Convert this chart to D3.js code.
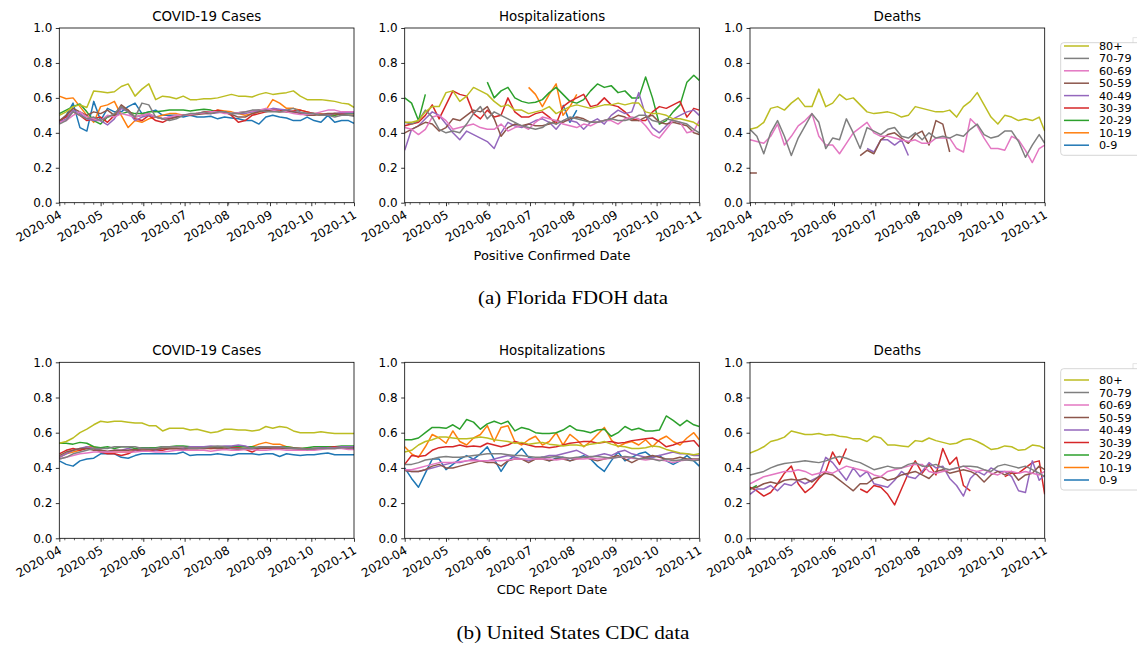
<!DOCTYPE html>
<html><head><meta charset="utf-8">
<script src="https://cdn.jsdelivr.net/npm/d3@7"></script>
<style>
body{margin:0;background:#fff}
svg{display:block}
text{font-family:"DejaVu Sans",sans-serif;fill:#000}
</style>
</head><body>
<svg id="chart" width="1137" height="648"></svg>
<script>
const _ = null;
const ageGroups = ["0-9","10-19","20-29","30-39","40-49","50-59","60-69","70-79","80+"];
const groupColors = ["#1f77b4","#ff7f0e","#2ca02c","#d62728","#9467bd","#8c564b","#e377c2","#7f7f7f","#bcbd22"];
const dayOffsets = [0,5,10,15,20,25,30,35,40,45,50,55,60,65,70,75,80,85,90,95,100,105,110,115,120,125,130,135,140,145,150,155,160,165,170,175,180,185,190,195,200,205,210,214];
const yTicks = [0,0.2,0.4,0.6,0.8,1.0];
const panelTitles = ["COVID-19 Cases","Hospitalizations","Deaths"];
const xLabels = ["Positive Confirmed Date","CDC Report Date"];
const subCaptions = ["(a) Florida FDOH data","(b) United States CDC data"];

// Florida FDOH — order: 0-9,10-19,20-29,30-39,40-49,50-59,60-69,70-79,80+
const flCases = [
[0.46,0.50,0.57,0.43,0.41,0.58,0.47,0.54,0.52,0.52,0.55,0.57,0.51,0.52,0.53,0.50,0.50,0.50,0.49,0.50,0.49,0.49,0.495,0.48,0.49,0.485,0.48,0.47,0.47,0.45,0.49,0.50,0.49,0.485,0.47,0.47,0.49,0.47,0.46,0.50,0.46,0.47,0.47,0.455],
[0.61,0.595,0.60,0.55,0.50,0.46,0.55,0.56,0.58,0.50,0.43,0.47,0.46,0.48,0.49,0.50,0.51,0.51,0.50,0.505,0.51,0.51,0.52,0.53,0.525,0.52,0.51,0.50,0.51,0.52,0.53,0.59,0.57,0.54,0.54,0.53,0.52,0.51,0.51,0.50,0.50,0.51,0.51,0.51],
[0.51,0.53,0.55,0.565,0.52,0.47,0.45,0.49,0.50,0.51,0.52,0.51,0.51,0.52,0.52,0.525,0.53,0.53,0.53,0.525,0.53,0.535,0.53,0.52,0.52,0.51,0.515,0.52,0.52,0.53,0.53,0.525,0.52,0.52,0.52,0.515,0.51,0.51,0.50,0.505,0.50,0.51,0.51,0.51],
[0.47,0.49,0.52,0.50,0.47,0.48,0.49,0.46,0.50,0.55,0.53,0.48,0.47,0.50,0.47,0.46,0.48,0.49,0.50,0.505,0.51,0.52,0.52,0.53,0.52,0.50,0.46,0.47,0.50,0.51,0.52,0.53,0.53,0.52,0.525,0.53,0.52,0.51,0.50,0.505,0.51,0.51,0.52,0.52],
[0.46,0.48,0.53,0.51,0.48,0.47,0.47,0.445,0.48,0.54,0.52,0.47,0.49,0.50,0.49,0.48,0.49,0.49,0.50,0.50,0.51,0.51,0.51,0.515,0.52,0.51,0.51,0.51,0.52,0.525,0.53,0.54,0.535,0.53,0.52,0.515,0.51,0.51,0.505,0.505,0.51,0.515,0.515,0.515],
[0.47,0.50,0.54,0.52,0.50,0.52,0.51,0.53,0.50,0.56,0.53,0.49,0.50,0.51,0.49,0.48,0.48,0.49,0.50,0.50,0.505,0.51,0.51,0.52,0.52,0.505,0.49,0.49,0.51,0.52,0.525,0.53,0.52,0.525,0.52,0.51,0.50,0.50,0.505,0.51,0.51,0.505,0.50,0.50],
[0.46,0.47,0.50,0.52,0.49,0.48,0.47,0.50,0.49,0.51,0.50,0.49,0.50,0.51,0.49,0.48,0.49,0.50,0.50,0.505,0.51,0.515,0.52,0.52,0.51,0.51,0.515,0.52,0.525,0.53,0.54,0.53,0.52,0.52,0.51,0.505,0.505,0.51,0.52,0.53,0.53,0.52,0.52,0.52],
[0.45,0.47,0.52,0.50,0.48,0.49,0.47,0.49,0.51,0.55,0.52,0.49,0.57,0.56,0.49,0.48,0.47,0.48,0.50,0.51,0.51,0.52,0.51,0.52,0.52,0.51,0.51,0.52,0.53,0.53,0.52,0.52,0.52,0.53,0.54,0.52,0.51,0.51,0.50,0.50,0.49,0.50,0.50,0.495],
[0.50,0.52,0.55,0.56,0.545,0.64,0.635,0.63,0.635,0.665,0.68,0.61,0.65,0.68,0.59,0.61,0.605,0.595,0.61,0.59,0.59,0.595,0.595,0.60,0.61,0.62,0.61,0.61,0.605,0.62,0.63,0.62,0.625,0.63,0.64,0.61,0.59,0.59,0.59,0.585,0.58,0.57,0.565,0.545]
];
const flHosp = [
[_,_,_,_,_,_,_,_,_,_,_,_,_,_,_,_,_,_,_,_,_,_,_,0.56,0.46,0.53,_,_,_,_,_,_,_,_,_,_,_,_,_,_,_,_,_,_],
[_,_,_,_,_,_,_,_,_,_,_,_,_,_,_,_,_,_,0.66,0.62,0.55,0.62,0.68,0.50,0.55,0.62,_,_,_,_,_,_,_,_,_,_,_,_,_,_,_,_,_,_],
[0.60,0.57,0.47,0.62,_,_,_,_,_,_,_,_,0.69,0.60,0.64,0.66,0.60,0.58,0.57,0.575,0.59,0.63,0.66,0.62,0.58,0.57,0.59,0.64,0.68,0.66,0.67,0.63,0.64,0.60,0.60,0.72,0.60,0.45,0.47,0.52,0.56,0.69,0.73,0.70],
[0.44,0.45,0.46,0.50,0.56,0.48,0.56,0.64,0.62,0.61,0.51,0.48,0.53,0.49,0.50,0.60,0.52,0.49,0.49,0.51,0.52,0.49,0.45,0.55,0.58,0.60,0.62,0.55,0.56,0.60,0.56,0.55,0.52,0.48,0.47,0.47,0.52,0.55,0.54,0.56,0.58,0.49,0.54,0.53],
[0.30,0.42,0.44,0.48,0.52,0.50,0.45,0.40,0.36,0.41,0.39,0.37,0.35,0.31,0.40,0.46,0.44,0.43,0.45,0.47,0.48,0.46,0.42,0.47,0.47,0.46,0.42,0.46,0.48,0.45,0.50,0.53,0.51,0.52,0.63,0.50,0.43,0.40,0.44,0.48,0.50,0.52,0.53,0.50],
[0.40,0.42,0.44,0.46,0.45,0.41,0.43,0.48,0.47,0.50,0.53,0.52,0.55,0.48,0.38,0.43,0.45,0.44,0.45,0.44,0.44,0.45,0.47,0.46,0.48,0.49,0.48,0.46,0.46,0.47,0.48,0.50,0.49,0.47,0.47,0.49,0.50,0.46,0.45,0.46,0.45,0.44,0.40,0.39],
[0.43,0.42,0.39,0.42,0.49,0.50,0.47,0.42,0.43,0.44,0.45,0.43,0.42,0.42,0.45,0.41,0.43,0.44,0.42,0.46,0.49,0.48,0.47,0.45,0.44,0.43,0.45,0.44,0.46,0.47,0.47,0.45,0.48,0.49,0.48,0.44,0.39,0.37,0.42,0.47,0.46,0.40,0.41,0.47],
[0.46,0.45,0.47,0.53,0.49,0.42,0.40,0.41,0.40,0.45,0.51,0.55,0.48,0.52,0.50,0.48,0.46,0.44,0.43,0.42,0.43,0.46,0.45,0.47,0.49,0.48,0.47,0.46,0.46,0.47,0.48,0.47,0.47,0.48,0.50,0.50,0.47,0.46,0.48,0.47,0.46,0.45,0.42,0.40],
[0.46,0.46,0.47,0.52,0.55,0.55,0.63,0.64,0.58,0.61,0.66,0.64,0.62,0.58,0.55,0.56,0.53,0.53,0.51,0.52,0.53,0.55,0.51,0.53,0.55,0.56,0.55,0.54,0.55,0.56,0.56,0.57,0.56,0.57,0.57,0.52,0.51,0.51,0.50,0.48,0.48,0.47,0.46,0.44]
];
const flDeaths = [
[],
[],
[],
[],
[_,_,_,_,_,_,_,_,_,_,_,_,_,_,_,_,_,0.31,0.29,0.36,0.36,0.33,0.36,0.27,_,_,_,_,_,_,_,_,_,_,_,_,_,_,_,_,_,_,_,_],
[0.17,0.17,_,_,_,_,_,_,_,_,_,_,_,_,_,_,0.27,0.30,0.28,0.36,0.39,0.40,0.37,0.34,0.39,0.41,0.33,0.47,0.45,0.29,_,_,_,_,_,_,_,_,_,_,_,_,_,_],
[0.36,0.35,0.34,0.38,0.45,0.33,0.38,0.44,0.47,0.51,0.38,0.33,0.33,0.28,0.34,0.40,0.43,0.46,0.40,0.38,0.38,0.37,0.36,0.35,0.36,0.34,0.34,0.37,0.37,0.37,0.31,0.29,0.48,0.44,0.37,0.31,0.31,0.30,0.38,0.36,0.30,0.23,0.31,0.33],
[0.42,0.38,0.28,0.40,0.47,0.38,0.27,0.37,0.44,0.51,0.46,0.31,0.37,0.36,0.48,0.40,0.31,0.43,0.41,0.39,0.42,0.43,0.38,0.37,0.40,0.36,0.40,0.37,0.38,0.37,0.39,0.38,0.42,0.45,0.39,0.37,0.38,0.41,0.41,0.35,0.26,0.33,0.39,0.34],
[0.42,0.43,0.46,0.54,0.55,0.53,0.57,0.60,0.55,0.55,0.65,0.55,0.57,0.62,0.59,0.60,0.56,0.52,0.51,0.515,0.52,0.51,0.49,0.50,0.55,0.54,0.53,0.52,0.52,0.53,0.49,0.55,0.58,0.63,0.56,0.49,0.45,0.50,0.49,0.47,0.48,0.47,0.49,0.41]
];

// United States CDC
const usCases = [
[0.44,0.42,0.41,0.44,0.45,0.455,0.48,0.48,0.48,0.46,0.455,0.47,0.48,0.48,0.48,0.48,0.48,0.48,0.49,0.47,0.475,0.475,0.475,0.48,0.475,0.47,0.48,0.48,0.48,0.475,0.48,0.48,0.465,0.48,0.475,0.47,0.475,0.475,0.48,0.485,0.475,0.475,0.475,0.475],
[0.46,0.48,0.49,0.50,0.52,0.52,0.50,0.49,0.49,0.49,0.49,0.50,0.505,0.50,0.51,0.51,0.51,0.51,0.51,0.51,0.51,0.515,0.51,0.515,0.52,0.52,0.515,0.51,0.52,0.535,0.545,0.535,0.535,0.52,0.515,0.51,0.51,0.505,0.51,0.515,0.52,0.52,0.52,0.515],
[0.54,0.54,0.535,0.545,0.54,0.52,0.515,0.52,0.51,0.52,0.52,0.51,0.515,0.515,0.515,0.52,0.52,0.525,0.525,0.52,0.52,0.52,0.52,0.515,0.52,0.52,0.52,0.52,0.52,0.515,0.52,0.52,0.52,0.52,0.515,0.51,0.515,0.52,0.52,0.52,0.52,0.525,0.525,0.525],
[0.48,0.50,0.51,0.50,0.51,0.51,0.49,0.48,0.48,0.47,0.48,0.50,0.50,0.495,0.50,0.50,0.51,0.51,0.51,0.51,0.51,0.51,0.51,0.51,0.51,0.515,0.515,0.505,0.49,0.51,0.51,0.515,0.515,0.51,0.51,0.51,0.505,0.51,0.51,0.515,0.52,0.515,0.515,0.515],
[0.46,0.48,0.50,0.51,0.52,0.51,0.50,0.49,0.50,0.50,0.51,0.50,0.51,0.51,0.50,0.51,0.51,0.51,0.51,0.52,0.52,0.52,0.525,0.52,0.525,0.525,0.53,0.525,0.51,0.515,0.52,0.52,0.52,0.515,0.51,0.51,0.505,0.51,0.515,0.515,0.515,0.52,0.52,0.52],
[0.47,0.49,0.50,0.51,0.51,0.50,0.50,0.495,0.50,0.50,0.50,0.505,0.50,0.505,0.505,0.51,0.51,0.51,0.505,0.51,0.51,0.51,0.515,0.51,0.51,0.51,0.505,0.51,0.51,0.51,0.515,0.51,0.51,0.51,0.51,0.505,0.505,0.505,0.51,0.51,0.51,0.515,0.51,0.51],
[0.45,0.46,0.47,0.48,0.485,0.49,0.49,0.49,0.49,0.49,0.49,0.49,0.495,0.495,0.49,0.49,0.495,0.50,0.50,0.50,0.50,0.50,0.495,0.50,0.505,0.50,0.50,0.505,0.505,0.50,0.50,0.505,0.505,0.50,0.50,0.50,0.50,0.50,0.505,0.51,0.51,0.51,0.505,0.505],
[0.45,0.46,0.48,0.49,0.50,0.51,0.51,0.51,0.52,0.52,0.52,0.52,0.51,0.51,0.51,0.52,0.52,0.52,0.52,0.51,0.51,0.515,0.52,0.525,0.52,0.51,0.51,0.51,0.51,0.52,0.52,0.52,0.52,0.515,0.51,0.51,0.505,0.51,0.51,0.51,0.51,0.515,0.515,0.51],
[0.54,0.55,0.57,0.60,0.62,0.645,0.665,0.66,0.665,0.665,0.66,0.655,0.655,0.64,0.64,0.61,0.625,0.625,0.625,0.615,0.62,0.61,0.60,0.605,0.62,0.62,0.615,0.615,0.61,0.615,0.635,0.625,0.635,0.63,0.61,0.60,0.60,0.60,0.605,0.60,0.595,0.595,0.595,0.595]
];
const usHosp = [
[0.40,0.34,0.29,0.37,0.45,0.45,0.39,0.42,0.45,0.47,0.45,0.48,0.52,0.45,0.38,0.44,0.47,0.51,0.46,0.45,0.46,0.44,0.455,0.46,0.44,0.455,0.47,0.45,0.41,0.38,0.44,0.49,0.44,0.46,0.48,0.49,0.46,0.47,0.44,0.42,0.44,0.47,0.44,0.41],
[0.52,0.48,0.46,0.52,0.59,0.57,0.54,0.61,0.55,0.53,0.57,0.59,0.64,0.55,0.63,0.64,0.55,0.53,0.56,0.58,0.53,0.55,0.60,0.53,0.59,0.56,0.52,0.55,0.59,0.63,0.56,0.52,0.54,0.55,0.53,0.56,0.52,0.56,0.58,0.55,0.53,0.57,0.60,0.56],
[0.56,0.56,0.57,0.60,0.63,0.63,0.625,0.645,0.62,0.675,0.66,0.62,0.65,0.665,0.65,0.665,0.61,0.63,0.62,0.60,0.595,0.595,0.60,0.615,0.64,0.615,0.61,0.60,0.615,0.62,0.58,0.60,0.635,0.615,0.625,0.61,0.61,0.615,0.695,0.67,0.64,0.67,0.645,0.635],
[0.42,0.47,0.465,0.47,0.50,0.515,0.52,0.52,0.53,0.52,0.525,0.52,0.54,0.53,0.52,0.53,0.55,0.54,0.53,0.52,0.52,0.515,0.52,0.53,0.54,0.545,0.55,0.55,0.54,0.545,0.55,0.54,0.545,0.555,0.56,0.565,0.57,0.55,0.52,0.53,0.545,0.55,0.555,0.52],
[0.39,0.38,0.38,0.39,0.40,0.41,0.42,0.43,0.43,0.44,0.45,0.44,0.44,0.45,0.46,0.47,0.46,0.45,0.44,0.45,0.46,0.47,0.47,0.48,0.49,0.50,0.48,0.46,0.47,0.48,0.47,0.49,0.50,0.48,0.47,0.46,0.46,0.47,0.48,0.49,0.48,0.48,0.47,0.47],
[0.385,0.38,0.38,0.39,0.41,0.42,0.40,0.40,0.41,0.42,0.43,0.44,0.43,0.43,0.41,0.44,0.45,0.45,0.43,0.45,0.45,0.44,0.45,0.45,0.44,0.45,0.46,0.45,0.44,0.45,0.46,0.47,0.45,0.43,0.45,0.46,0.47,0.46,0.45,0.45,0.46,0.45,0.45,0.45],
[0.39,0.39,0.40,0.41,0.42,0.43,0.43,0.43,0.435,0.44,0.44,0.44,0.44,0.44,0.44,0.445,0.45,0.45,0.45,0.45,0.45,0.45,0.445,0.45,0.455,0.45,0.45,0.455,0.45,0.45,0.455,0.46,0.46,0.455,0.45,0.445,0.45,0.445,0.44,0.43,0.44,0.445,0.445,0.445],
[0.42,0.42,0.43,0.445,0.45,0.46,0.465,0.46,0.46,0.465,0.47,0.475,0.48,0.48,0.48,0.475,0.47,0.47,0.465,0.46,0.46,0.46,0.465,0.46,0.455,0.46,0.46,0.465,0.465,0.46,0.455,0.46,0.465,0.46,0.45,0.455,0.45,0.44,0.45,0.44,0.445,0.445,0.44,0.445],
[0.49,0.50,0.53,0.55,0.56,0.575,0.575,0.57,0.565,0.565,0.57,0.575,0.57,0.56,0.555,0.55,0.54,0.545,0.535,0.54,0.545,0.535,0.53,0.525,0.53,0.53,0.525,0.535,0.54,0.55,0.535,0.525,0.52,0.51,0.51,0.515,0.525,0.52,0.505,0.495,0.485,0.48,0.475,0.48]
];
const usDeaths = [
[],
[],
[0.28,0.30],
[0.29,0.27,0.24,0.26,0.31,0.37,0.41,0.31,0.26,0.29,0.34,0.38,0.49,0.42,0.51,_,0.28,0.26,0.30,0.29,0.25,0.19,0.28,0.37,0.44,0.37,0.42,0.36,0.51,0.42,0.46,0.30,0.27,_,_,_,_,0.35,0.37,0.37,0.40,0.43,0.44,0.25],
[0.25,0.28,0.28,0.30,0.27,0.31,0.30,0.33,0.31,0.33,0.35,0.46,0.43,0.38,0.33,0.40,0.35,0.38,0.31,0.30,0.29,0.33,0.38,0.35,0.34,0.38,0.43,0.40,0.41,0.34,0.30,0.24,0.34,0.38,0.36,0.40,0.38,0.38,0.35,0.27,0.26,0.44,0.33,0.36],
[0.28,0.29,0.31,0.32,0.31,0.33,0.335,0.33,0.34,0.32,0.35,0.37,0.36,0.33,0.30,0.27,0.31,0.31,0.34,0.35,0.33,0.34,0.36,0.37,0.38,0.36,0.34,0.38,0.39,0.37,0.38,0.39,0.38,0.36,0.32,0.36,0.38,0.36,0.38,0.33,0.36,0.37,0.41,0.39],
[0.31,0.33,0.35,0.36,0.37,0.38,0.38,0.39,0.38,0.36,0.37,0.38,0.37,0.39,0.41,0.40,0.39,0.38,0.36,0.35,0.38,0.39,0.40,0.41,0.42,0.42,0.38,0.37,0.38,0.39,0.40,0.41,0.39,0.38,0.39,0.37,0.36,0.38,0.38,0.37,0.38,0.37,0.36,0.38],
[0.36,0.37,0.38,0.40,0.415,0.425,0.43,0.435,0.44,0.435,0.43,0.44,0.455,0.465,0.455,0.44,0.43,0.41,0.39,0.40,0.41,0.40,0.40,0.42,0.43,0.41,0.41,0.42,0.40,0.39,0.40,0.41,0.41,0.405,0.39,0.38,0.41,0.42,0.41,0.40,0.41,0.39,0.37,0.35],
[0.485,0.50,0.52,0.55,0.56,0.575,0.61,0.60,0.59,0.59,0.595,0.585,0.59,0.58,0.575,0.565,0.565,0.55,0.58,0.57,0.53,0.53,0.525,0.52,0.555,0.55,0.57,0.555,0.545,0.535,0.54,0.56,0.565,0.55,0.53,0.505,0.51,0.525,0.52,0.50,0.505,0.53,0.525,0.51]
];

const rowsData = [[flCases, flHosp, flDeaths],[usCases, usHosp, usDeaths]];

// ---------- layout ----------
const colX = [[59.3,354],[404.7,699.3],[750,1044.7]];
const rowY = [[28,202.7],[362.3,538.3]];
const xLabelY = [260,593.5];
const captionY = [304,639];
const legendBox = [{top:42.7,h:112.6,first:46,step:12.4},{top:368.7,h:121.3,first:380,step:12.5}];

const svg = d3.select("#chart");
const t0 = new Date(Date.UTC(2020,3,1));
const t1 = new Date(Date.UTC(2020,10,1));
const dates = dayOffsets.map(d => new Date(t0.getTime() + d*864e5));

rowsData.forEach((panels, r) => {
  panels.forEach((series, c) => {
    const [x0,x1] = colX[c];
    const [y0,y1] = rowY[r];
    const x = d3.scaleUtc().domain([t0,t1]).range([x0,x1]);
    const y = d3.scaleLinear().domain([0,1]).range([y1,y0]);
    const g = svg.append("g");
    const cid = `clip${r}${c}`;
    g.append("clipPath").attr("id",cid).append("rect")
      .attr("x",x0).attr("y",y0).attr("width",x1-x0).attr("height",y1-y0);

    const line = d3.line()
      .defined(d => d.v !== null && d.v !== undefined)
      .x(d => x(d.t)).y(d => y(d.v));

    const lg = g.append("g").attr("clip-path",`url(#${cid})`);
    series.forEach((vals, k) => {
      if (!vals.length) return;
      const pts = vals.map((v,i) => ({t: dates[i], v}));
      lg.append("path").datum(pts)
        .attr("d", line)
        .attr("fill","none")
        .attr("stroke", groupColors[k])
        .attr("stroke-width",1.5)
        .attr("stroke-linejoin","round");
    });

    // y axis
    const ya = g.append("g").attr("transform",`translate(${x0},0)`)
      .call(d3.axisLeft(y).tickValues(yTicks).tickFormat(d3.format(".1f")).tickSize(3.5).tickPadding(3.5));
    ya.select(".domain").remove();
    ya.selectAll("text").attr("font-size",12).attr("font-family","DejaVu Sans").attr("fill","#000");
    ya.selectAll("line").attr("stroke","#000").attr("stroke-width",0.8);

    // x axis (months)
    const xa = g.append("g").attr("transform",`translate(0,${y1})`)
      .call(d3.axisBottom(x).ticks(d3.utcMonth.every(1)).tickFormat(d3.utcFormat("%Y-%m")).tickSize(3.5));
    xa.select(".domain").remove();
    xa.selectAll("line").attr("stroke","#000").attr("stroke-width",0.8);
    xa.selectAll("text")
      .attr("font-size",12).attr("font-family","DejaVu Sans").attr("fill","#000")
      .attr("text-anchor","end").attr("x",0).attr("y",0).attr("dy","0.72em")
      .attr("transform","translate(-1.5,7) rotate(-30)");

    // minor weekly ticks
    const minor = d3.utcSunday.range(t0, t1).filter(d => d.getUTCDate() !== 1);
    g.append("g").selectAll("line").data(minor).join("line")
      .attr("x1",d=>x(d)).attr("x2",d=>x(d))
      .attr("y1",y1).attr("y2",y1+2)
      .attr("stroke","#000").attr("stroke-width",0.6);

    // frame
    g.append("rect").attr("x",x0).attr("y",y0).attr("width",x1-x0).attr("height",y1-y0)
      .attr("fill","none").attr("stroke","#000").attr("stroke-width",0.8);

    // title
    g.append("text").attr("x",(x0+x1)/2).attr("y",y0-7.3)
      .attr("text-anchor","middle").attr("font-size",13.4).text(panelTitles[c]);

    if (c === 1) {
      g.append("text").attr("x",(x0+x1)/2).attr("y",xLabelY[r])
        .attr("text-anchor","middle").attr("font-size",13).text(xLabels[r]);
    }

    if (c === 2) {
      const lb = legendBox[r];
      const leg = g.append("g");
      leg.append("rect").attr("x",1133).attr("y",lb.top-5).attr("width",10).attr("height",6)
        .attr("fill","none").attr("stroke","#dddddd").attr("stroke-width",0.8);
      leg.append("rect").attr("x",1060.7).attr("y",lb.top).attr("width",100).attr("height",lb.h)
        .attr("rx",3).attr("fill","#fff").attr("stroke","#cccccc").attr("stroke-width",0.8);
      const order = d3.range(ageGroups.length).reverse();
      order.forEach((k, j) => {
        const yy = lb.first + j*lb.step;
        leg.append("line").attr("x1",1064).attr("x2",1089).attr("y1",yy).attr("y2",yy)
          .attr("stroke",groupColors[k]).attr("stroke-width",1.5);
        leg.append("text").attr("x",1099).attr("y",yy).attr("dy","0.36em")
          .attr("font-size",11.2).text(ageGroups[k]);
      });
    }
  });
  svg.append("text").attr("x",573).attr("y",captionY[r])
    .attr("text-anchor","middle")
    .style("font-family","'Liberation Serif','Times New Roman',serif")
    .attr("font-size",18)
    .attr("textLength", r === 0 ? 190 : 233)
    .attr("lengthAdjust","spacingAndGlyphs")
    .text(subCaptions[r]);
});
</script>
</body></html>
